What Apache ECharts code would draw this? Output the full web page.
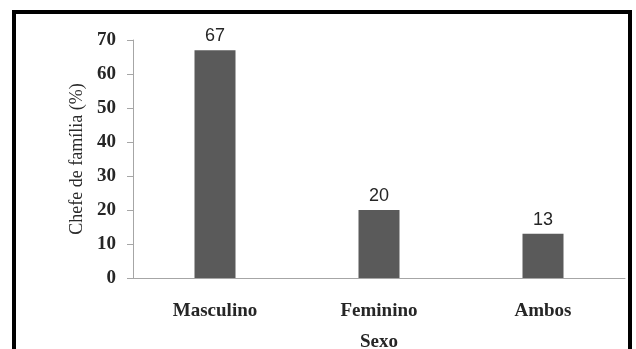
<!DOCTYPE html>
<html>
<head>
<meta charset="utf-8">
<script src="https://cdn.jsdelivr.net/npm/echarts@6/dist/echarts.min.js"></script>
<style>
html,body{margin:0;padding:0;background:#fff;}
#c{width:636px;height:349px;}
</style>
</head>
<body>
<div id="c"></div>
<script>
var categories = ['Masculino', 'Feminino', 'Ambos'];
var values = [67, 20, 13];
var yTicks = [0, 10, 20, 30, 40, 50, 60, 70];
var xName = 'Sexo';
var yName = 'Chefe de família (%)';

var chart = echarts.init(document.getElementById('c'), null, {renderer: 'canvas'});
var serif = '"Liberation Serif", "Times New Roman", serif';
chart.setOption({
  animation: false,
  backgroundColor: '#ffffff',
  grid: {left: 133, right: 11, top: 40, bottom: 71, containLabel: false, outerBoundsMode: 'none'},
  graphic: [{
    type: 'rect',
    shape: {x: 14, y: 12, width: 616, height: 360},
    style: {fill: 'none', stroke: '#000', lineWidth: 4},
    z: 100
  }],
  xAxis: {
    type: 'category',
    data: categories,
    name: xName,
    nameLocation: 'middle',
    nameGap: 55,
    nameTextStyle: {fontFamily: serif, fontSize: 19, fontWeight: 'bold', color: '#262626'},
    axisLine: {lineStyle: {color: '#a6a6a6', width: 1}},
    axisTick: {show: false},
    axisLabel: {margin: 24, fontFamily: serif, fontSize: 19, fontWeight: 'bold', color: '#262626'}
  },
  yAxis: {
    type: 'value',
    min: yTicks[0],
    max: yTicks[yTicks.length - 1],
    interval: 10,
    name: yName,
    nameLocation: 'middle',
    nameGap: 45,
    nameTextStyle: {fontFamily: serif, fontSize: 18, color: '#2a2a2a'},
    axisLine: {show: true, lineStyle: {color: '#a6a6a6', width: 1}},
    axisTick: {show: true, length: 6, lineStyle: {color: '#a6a6a6'}},
    splitLine: {show: false},
    axisLabel: {margin: 17, fontFamily: serif, fontSize: 19, fontWeight: 'bold', color: '#262626'}
  },
  series: [{
    type: 'bar',
    data: values,
    barWidth: 41,
    itemStyle: {color: '#5a5a5a'},
    label: {
      show: true,
      position: 'top',
      distance: 5,
      fontFamily: '"Liberation Sans", Arial, sans-serif',
      fontSize: 18,
      color: '#262626'
    }
  }]
});
</script>
</body>
</html>
